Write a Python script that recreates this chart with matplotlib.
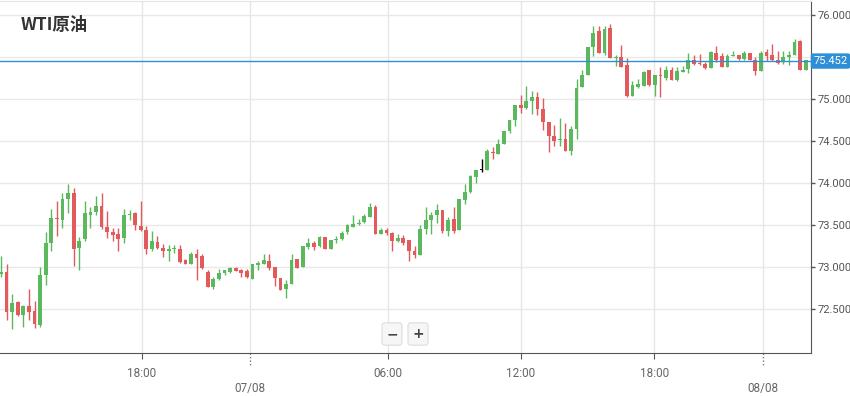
import matplotlib
matplotlib.use('Agg')
import matplotlib.pyplot as plt
import matplotlib.transforms as mtransforms

plt.rcParams['font.family'] = ['Noto Sans CJK SC', 'DejaVu Sans']

# 15 minute candles (open, high, low, close)
opens = [72.92, 72.94, 72.47, 72.58, 72.43, 72.54, 72.48, 72.31, 72.90, 73.28,
         73.575, 73.56, 73.81, 73.88, 73.23, 73.33, 73.62, 73.66, 73.73, 73.48,
         73.42, 73.39, 73.35, 73.615, 73.64, 73.49, 73.44, 73.21, 73.30, 73.23,
         73.19, 73.215, 73.22, 73.08, 73.04, 73.15, 73.13, 72.94, 72.76, 72.86,
         72.93, 72.94, 72.99, 72.96, 72.95, 72.86, 73.02, 73.04, 73.07, 73.00,
         72.87, 72.74, 72.80, 73.09, 73.00, 73.24, 73.28, 73.25, 73.36, 73.22,
         73.325, 73.33, 73.42, 73.48, 73.515, 73.53, 73.60, 73.71, 73.39, 73.44,
         73.41, 73.31, 73.35, 73.32, 73.19, 73.14, 73.45, 73.56, 73.62, 73.68,
         73.43, 73.57, 73.44, 73.80, 73.89, 74.07, 74.15, 74.15, 74.37, 74.35,
         74.47, 74.62, 74.75, 74.93, 74.89, 74.98, 75.02, 74.88, 74.73, 74.56,
         74.51, 74.52, 74.38, 74.64, 75.14, 75.29, 75.62, 75.81, 75.55, 75.84,
         75.49, 75.50, 75.40, 75.04, 75.14, 75.16, 75.34, 75.17, 75.275, 75.25,
         75.35, 75.23, 75.32, 75.36, 75.47, 75.42, 75.42, 75.37, 75.55, 75.51,
         75.38, 75.515, 75.52, 75.48, 75.55, 75.46, 75.33, 75.56, 75.53, 75.47,
         75.44, 75.50, 75.52, 75.69, 75.35]
highs = [73.13, 73.04, 72.68, 72.59, 72.55, 72.74, 72.59, 73.00, 73.42, 73.69,
         73.78, 73.88, 73.99, 73.94, 73.36, 73.79, 73.72, 73.85, 73.88, 73.67,
         73.47, 73.46, 73.69, 73.68, 73.66, 73.78, 73.49, 73.43, 73.37, 73.27,
         73.26, 73.26, 73.26, 73.09, 73.18, 73.22, 73.15, 72.97, 72.88, 72.98,
         72.97, 73.00, 73.00, 72.98, 72.98, 73.03, 73.07, 73.15, 73.16, 73.00,
         72.87, 72.84, 73.15, 73.10, 73.25, 73.34, 73.31, 73.37, 73.36, 73.32,
         73.37, 73.43, 73.51, 73.62, 73.57, 73.63, 73.76, 73.74, 73.47, 73.47,
         73.42, 73.39, 73.38, 73.32, 73.25, 73.50, 73.71, 73.66, 73.75, 73.68,
         73.60, 73.71, 73.81, 73.99, 74.10, 74.16, 74.28, 74.40, 74.43, 74.52,
         74.62, 74.75, 74.93, 75.05, 75.16, 75.10, 75.08, 75.01, 74.73, 74.69,
         74.77, 74.71, 74.68, 75.24, 75.34, 75.62, 75.87, 75.87, 75.87, 75.89,
         75.52, 75.64, 75.49, 75.22, 75.24, 75.33, 75.35, 75.29, 75.38, 75.39,
         75.38, 75.38, 75.39, 75.55, 75.52, 75.54, 75.44, 75.57, 75.63, 75.55,
         75.54, 75.57, 75.52, 75.57, 75.55, 75.50, 75.57, 75.59, 75.65, 75.57,
         75.57, 75.57, 75.72, 75.70, 75.47]
lows = [72.88, 72.37, 72.26, 72.42, 72.29, 72.37, 72.27, 72.28, 72.78, 73.19,
        73.37, 73.46, 73.64, 73.01, 72.96, 73.31, 73.46, 73.62, 73.45, 73.34,
        73.31, 73.19, 73.29, 73.56, 73.44, 73.43, 73.16, 73.19, 73.22, 73.12,
        73.07, 73.17, 73.05, 73.03, 73.03, 72.84, 72.98, 72.76, 72.74, 72.85,
        72.90, 72.93, 72.95, 72.88, 72.87, 72.86, 72.97, 73.03, 72.96, 72.77,
        72.73, 72.63, 72.80, 72.99, 73.00, 73.21, 73.20, 73.24, 73.21, 73.22,
        73.29, 73.32, 73.39, 73.48, 73.50, 73.52, 73.59, 73.39, 73.39, 73.38,
        73.19, 73.30, 73.26, 73.07, 73.11, 73.14, 73.39, 73.39, 73.52, 73.41,
        73.37, 73.41, 73.44, 73.75, 73.88, 74.00, 74.13, 74.15, 74.28, 74.34,
        74.47, 74.60, 74.68, 74.83, 74.88, 74.82, 74.81, 74.63, 74.37, 74.44,
        74.44, 74.38, 74.33, 74.52, 75.14, 75.29, 75.51, 75.55, 75.53, 75.49,
        75.39, 75.38, 75.02, 75.04, 75.13, 75.15, 75.16, 75.04, 75.02, 75.23,
        75.23, 75.22, 75.32, 75.31, 75.41, 75.41, 75.36, 75.37, 75.44, 75.38,
        75.38, 75.515, 75.47, 75.47, 75.46, 75.29, 75.33, 75.45, 75.45, 75.42,
        75.42, 75.41, 75.52, 75.35, 75.34]
closes = [72.94, 72.47, 72.57, 72.43, 72.54, 72.47, 72.32, 72.91, 73.28, 73.58,
          73.57, 73.81, 73.88, 73.21, 73.31, 73.64, 73.66, 73.73, 73.48, 73.42,
          73.38, 73.33, 73.62, 73.62, 73.50, 73.44, 73.21, 73.31, 73.23, 73.19,
          73.22, 73.22, 73.06, 73.04, 73.16, 73.11, 72.99, 72.76, 72.86, 72.93,
          72.96, 72.99, 72.95, 72.93, 72.88, 73.03, 73.05, 73.08, 72.99, 72.87,
          72.73, 72.80, 73.08, 72.99, 73.25, 73.28, 73.24, 73.36, 73.21, 73.32,
          73.33, 73.41, 73.50, 73.51, 73.52, 73.61, 73.72, 73.39, 73.44, 73.41,
          73.31, 73.35, 73.28, 73.19, 73.14, 73.45, 73.56, 73.62, 73.68, 73.43,
          73.56, 73.43, 73.81, 73.89, 74.08, 74.16, 74.15, 74.38, 74.36, 74.47,
          74.62, 74.75, 74.93, 74.89, 74.98, 75.02, 74.88, 74.73, 74.56, 74.50,
          74.515, 74.38, 74.64, 75.13, 75.29, 75.62, 75.79, 75.55, 75.83, 75.49,
          75.50, 75.38, 75.04, 75.17, 75.18, 75.32, 75.17, 75.29, 75.27, 75.34,
          75.23, 75.33, 75.35, 75.47, 75.42, 75.418, 75.37, 75.56, 75.47, 75.38,
          75.51, 75.52, 75.48, 75.55, 75.46, 75.33, 75.55, 75.51, 75.46, 75.43,
          75.50, 75.52, 75.68, 75.35, 75.47]

hover_idx = 86            # candle under the cursor, drawn in black
last_price = 75.452

time_ticks = [25.2, 69.2, 93.0, 116.9]
time_labels = ['18:00', '06:00', '12:00', '18:00']
date_ticks = [44.6, 136.4]
date_labels = ['07/08', '08/08']
price_ticks = [72.5, 73.0, 73.5, 74.0, 74.5, 75.0, 75.5, 76.0]

green = '#5cb85c'
red = '#e35a5c'
blue = '#2f8fd6'
label_font = ['Roboto', 'DejaVu Sans']

fig = plt.figure(figsize=(8.5, 3.96), dpi=100)
ax = fig.add_axes([0.0, 1 - 353 / 396, 811 / 850, 352 / 396])

for i, (o, h, l, c) in enumerate(zip(opens, highs, lows, closes)):
    col = green if c >= o else red
    if i == hover_idx:
        col = 'black'
    ax.vlines(i, l, h, color=col, lw=1, zorder=3)
    bottom = min(o, c)
    height = max(abs(c - o), 0.012)
    ax.bar(i, height, bottom=bottom, width=0.68, color=col, lw=0, zorder=3)

ax.set_xlim(-0.18, 144.95)
ax.set_ylim(71.976, 76.167)

# grid
for x in time_ticks + date_ticks:
    ax.axvline(x, color='#e6e6e6', lw=1, zorder=0)
for y in price_ticks:
    ax.axhline(y, color='#e9e9e9', lw=1, zorder=0)

ax.axhline(last_price, color=blue, lw=1, zorder=4)

ax.yaxis.tick_right()
ax.set_yticks(price_ticks)
# the 75.500 label sits under the last price box
ax.set_yticklabels(['' if abs(p - 75.5) < 1e-9 else f'{p:.3f}' for p in price_ticks],
                   family=label_font)
ax.tick_params(axis='y', length=3, width=1, color='#555555', labelsize=8,
               labelcolor='#555555', pad=1.5)

ax.set_xticks(time_ticks)
ax.set_xticklabels(time_labels, family=label_font)
ax.set_xticks(date_ticks, minor=True)
ax.set_xticklabels(date_labels, minor=True, family=label_font)
ax.tick_params(axis='x', which='major', length=4, color='#555555', labelsize=8.5,
               labelcolor='#666666', pad=6)
ax.tick_params(axis='x', which='minor', length=0, labelsize=8.5,
               labelcolor='#666666', pad=21)

trans = mtransforms.blended_transform_factory(ax.transData, ax.transAxes)
for x in date_ticks:
    ax.plot([x, x], [0, -0.035], transform=trans, color='#777777', lw=1,
            ls=(0, (1, 1.5)), clip_on=False)

ax.spines['left'].set_visible(False)
ax.spines['top'].set_color('#e3e3e3')
ax.spines['right'].set_color('#555555')
ax.spines['bottom'].set_color('#555555')

ax.text(1.003, last_price, '75.452',
        transform=mtransforms.blended_transform_factory(ax.transAxes, ax.transData),
        ha='left', va='center', color='white', fontsize=8, family=label_font,
        bbox=dict(boxstyle='round,pad=0.18,rounding_size=0.15', fc=blue, ec=blue),
        clip_on=False, zorder=5)

fig.text(0.024, 0.936, 'WTI原油', fontsize=12.5, fontweight='bold', color='#333333',
         ha='left', va='center')

# zoom buttons
for xc, s in [(392, '−'), (418, '+')]:
    fig.text(xc / 850, 1 - 334 / 396, s, ha='center', va='center', fontsize=10,
             fontweight='bold', color='#444444', family=['DejaVu Sans'],
             bbox=dict(boxstyle='round,pad=0.3,rounding_size=0.2', fc='#f6f6f6',
                       ec='#dddddd', lw=0.8))

fig.savefig('out.png', dpi=100)
